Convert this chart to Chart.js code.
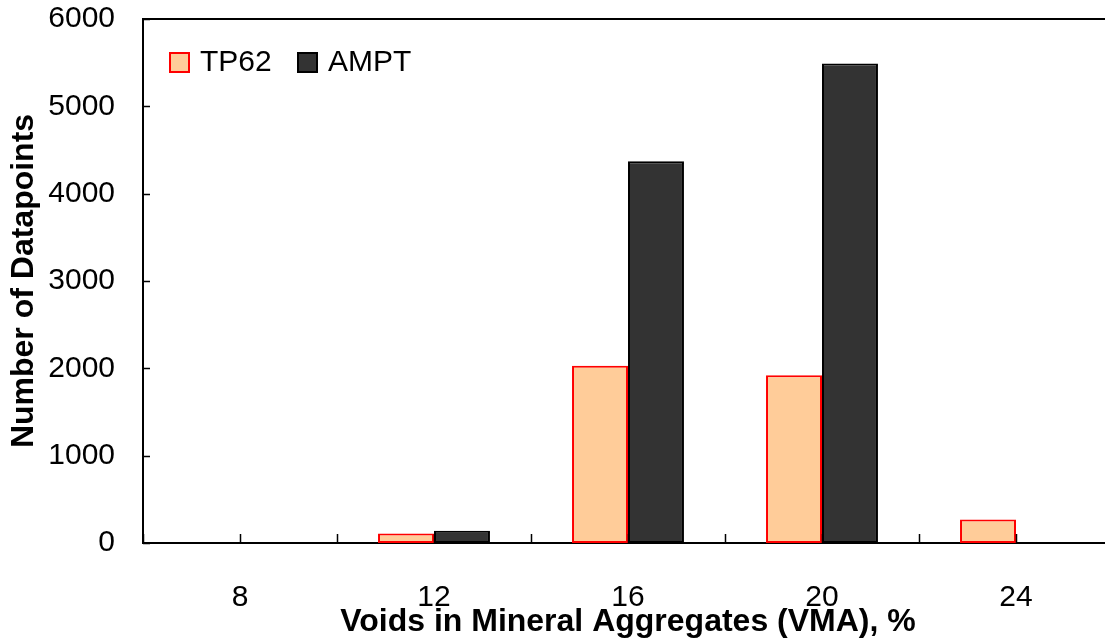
<!DOCTYPE html>
<html>
<head>
<meta charset="utf-8">
<script src="https://cdn.jsdelivr.net/npm/chart.js@4/dist/chart.umd.min.js"></script>
<style>
  html, body { margin: 0; padding: 0; background: #fff; overflow: hidden; width: 1105px; height: 644px; }
  #wrap { width: 1130px; height: 644px; }
</style>
</head>
<body>
<div id="wrap"><canvas id="c" width="1130" height="644"></canvas></div>
<script>
const categories = ['8', '12', '16', '20', '24'];
const tp62 = [0, 110, 2030, 1920, 270];
const ampt = [0, 140, 4370, 5490, 0];
const yTicks = [0, 1000, 2000, 3000, 4000, 5000, 6000];

const FONT = '"Liberation Sans", Arial, Helvetica, sans-serif';

const frame = {
  id: 'frame',
  afterDatasetsDraw(chart) {
    const ctx = chart.ctx;
    const a = chart.chartArea;
    const xs = chart.scales.x, ys = chart.scales.y;
    ctx.save();
    ctx.strokeStyle = '#000';
    ctx.lineWidth = 2;
    ctx.beginPath();
    ctx.moveTo(a.left - 1, a.top);
    ctx.lineTo(a.right + 20, a.top);
    ctx.stroke();
    // x tick marks at category centres and boundaries (pointing inward)
    const step = xs.getPixelForValue(1) - xs.getPixelForValue(0);
    ctx.lineWidth = 1.5;
    ctx.beginPath();
    for (let i = 0; i < categories.length; i++) {
      const c = xs.getPixelForValue(i);
      [c - step / 2, c].forEach(px => {
        ctx.moveTo(Math.round(px) + 0.5, a.bottom);
        ctx.lineTo(Math.round(px) + 0.5, a.bottom - 9);
      });
    }
    // y tick marks
    yTicks.forEach(v => {
      const py = Math.round(ys.getPixelForValue(v)) + 0.5;
      ctx.moveTo(a.left, py);
      ctx.lineTo(a.left + 7, py);
    });
    ctx.stroke();
    // legend
    const items = [
      { ds: chart.data.datasets[0], bx: a.left + 27 },
      { ds: chart.data.datasets[1], bx: a.left + 155 }
    ];
    ctx.font = '30px ' + FONT;
    ctx.textBaseline = 'middle';
    ctx.textAlign = 'left';
    items.forEach(it => {
      const by = a.top + 34;
      ctx.fillStyle = it.ds.backgroundColor;
      ctx.fillRect(it.bx, by, 19, 19);
      ctx.strokeStyle = it.ds.borderColor;
      ctx.lineWidth = 2;
      ctx.strokeRect(it.bx, by, 19, 19);
      ctx.fillStyle = '#000';
      ctx.fillText(it.ds.label, it.bx + 30, by + 10);
    });
    ctx.restore();
  }
};

new Chart(document.getElementById('c'), {
  type: 'bar',
  data: {
    labels: categories,
    datasets: [
      { label: 'TP62', data: tp62, backgroundColor: '#FFCC99', borderColor: '#FF0000', borderWidth: 2, borderSkipped: false,
        categoryPercentage: 0.577, barPercentage: 1.0 },
      { label: 'AMPT', data: ampt, backgroundColor: '#333333', borderColor: '#000000', borderWidth: 2, borderSkipped: false,
        categoryPercentage: 0.577, barPercentage: 1.0 }
    ]
  },
  options: {
    responsive: false,
    animation: false,
    devicePixelRatio: 1,
    layout: { padding: { top: 19, right: 17, left: 0, bottom: 0 } },
    plugins: { legend: { display: false }, tooltip: { enabled: false } },
    scales: {
      x: {
        grid: { display: false, drawTicks: false },
        border: { display: true, color: '#000', width: 2 },
        ticks: { color: '#000', font: { family: FONT, size: 30 }, padding: 37, maxRotation: 0 },
        title: { display: true, text: 'Voids in Mineral Aggregates (VMA), %', color: '#000',
                 font: { family: FONT, size: 32, weight: 'bold' }, padding: { top: 0, bottom: 3 } },
        afterFit(s) { s.height = 101; s.paddingLeft = 0; s.paddingRight = 0; }
      },
      y: {
        min: 0, max: 6000,
        grid: { display: false, drawTicks: false },
        border: { display: true, color: '#000', width: 2 },
        ticks: { color: '#000', font: { family: FONT, size: 30 }, padding: 28, stepSize: 1000,
                 callback: v => String(v) },
        afterBuildTicks(s) { s.ticks = yTicks.map(v => ({ value: v })); },
        title: { display: true, text: 'Number of Datapoints', color: '#000',
                 font: { family: FONT, size: 32, weight: 'bold' }, padding: { top: 5, bottom: 0 } },
        afterFit(s) { s.width = 143; s.paddingTop = 0; s.paddingBottom = 0; }
      }
    }
  },
  plugins: [frame]
});
</script>
</body>
</html>
